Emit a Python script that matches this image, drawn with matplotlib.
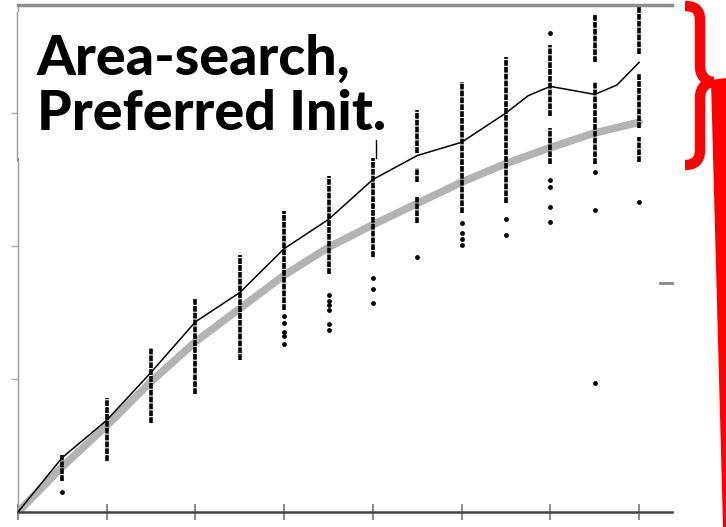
import numpy as np
import matplotlib.pyplot as plt
from matplotlib.patches import Rectangle, Polygon, PathPatch
from matplotlib.path import Path
from matplotlib.lines import Line2D

# mean curves (x = step, y = value)
mean_x = [0, 1, 2, 3, 4, 5, 6, 7, 8, 9, 10, 11, 11.5, 12, 12.5, 13, 13.5, 14]
mean_y = [0, 4.1, 6.9, 10.5, 14.3, 16.5, 19.8, 22.0, 25.0, 26.8, 27.8, 30.0, 31.3, 32.0, 31.7, 31.4, 32.1, 33.8]
gray_x = [0, 1, 2, 3, 4, 5, 6, 7, 8, 9, 10, 11, 12, 13, 14]
gray_y = [0, 3.4, 6.5, 9.8, 12.8, 15.3, 17.8, 19.9, 21.6, 23.2, 24.8, 26.2, 27.4, 28.5, 29.3]

# dense runs of samples per step
seg_x = [1, 2, 3, 4, 5, 6, 7, 8, 9, 9, 9, 10, 11, 12, 12, 13, 13, 14, 14, 14]
seg_lo = [2.3, 3.8, 6.7, 8.9, 11.4, 15.2, 17.9, 19.2, 27.0, 24.8, 21.7, 22.5, 23.2, 29.8, 26.2, 33.8, 26.2, 34.4, 28.9, 26.3]
seg_hi = [4.3, 8.6, 12.3, 16.1, 19.3, 22.6, 25.3, 26.6, 30.2, 25.9, 23.7, 32.3, 34.2, 35.1, 28.9, 37.4, 32.3, 38.0, 33.0, 28.2]

# isolated samples
dot_x = [1, 6, 6, 6, 6, 6, 7, 7, 7, 7, 7, 7, 8, 8, 8, 9, 10, 10, 10, 10,
         11, 11, 12, 12, 12, 12, 12, 13, 13, 13, 14]
dot_y = [1.5, 14.7, 14.2, 13.5, 13.2, 12.6, 16.3, 15.9, 15.6, 15.2, 14.1, 13.7, 17.6, 16.8, 15.7, 19.2, 21.7, 21.0, 20.5, 20.1,
         22.0, 20.8, 36.0, 25.0, 24.4, 22.9, 21.8, 25.6, 22.7, 9.7, 23.3]

W, H = 726, 527
def fx(x): return x / W
def fy(y): return 1 - y / H

fig = plt.figure(figsize=(7.26, 5.27), dpi=100)
ax = fig.add_axes([fx(18), fy(512), (672 - 18) / W, (512 - 5) / H])

ax.plot(gray_x, gray_y, color='#b3b3b3', lw=5.5, solid_capstyle='round', zorder=1)
ax.vlines(seg_x, seg_lo, seg_hi, color='black', lw=2.6, linestyles=[(0, (1.6, 0.3))], zorder=2)
ax.scatter(dot_x, dot_y, s=12, color='black', zorder=3, clip_on=False, linewidths=0)
ax.plot(mean_x, mean_y, color='black', lw=1.1, zorder=4)

ax.set_xlim(0, 654 / 44.36)
ax.set_ylim(0, 507 / 13.3)
ax.set_xticks(range(0, 15, 2))
ax.set_yticks([10, 20, 30])
ax.tick_params(axis='x', direction='inout', length=12, width=1.2, color='#777777', labelbottom=False)
ax.tick_params(axis='y', direction='out', length=5, width=1, color='#aaaaaa', labelleft=False)
ax.spines['right'].set_visible(False)
ax.spines['top'].set_color('#8c8c8c')
ax.spines['top'].set_linewidth(2.5)
ax.spines['bottom'].set_color('#444444')
ax.spines['bottom'].set_linewidth(1.8)
ax.spines['left'].set_color('#999999')
ax.spines['left'].set_linewidth(1)

# white title box over the plot
box = Rectangle((fx(17), fy(158)), (376 - 17) / W, (158 - 12) / H, transform=fig.transFigure,
                facecolor='white', edgecolor='none', zorder=5)
fig.add_artist(box)
fig.add_artist(Line2D([fx(17), fx(17)], [fy(12), fy(160)], color='#999999', lw=1, zorder=6))
fig.add_artist(Line2D([fx(376), fx(376)], [fy(140), fy(158)], color='black', lw=1, zorder=6))
fig.text(fx(37), fy(75), 'Area-search,', fontsize=40, fontweight='black', family='Lato',
         va='baseline', ha='left', zorder=7)
fig.text(fx(37), fy(130), 'Preferred Init.', fontsize=40, fontweight='black', family='Lato',
         va='baseline', ha='left', zorder=7)

# red brace and pointer
pts = [(685, 6), (695, 6), (700, 10), (700, 20), (700, 66), (700, 76), (706, 82), (714, 82),
       (706, 82), (700, 88), (700, 98), (700, 150), (700, 160), (695, 165), (685, 165)]
codes = [Path.MOVETO, Path.CURVE4, Path.CURVE4, Path.CURVE4, Path.LINETO, Path.CURVE4, Path.CURVE4, Path.CURVE4,
         Path.CURVE4, Path.CURVE4, Path.CURVE4, Path.LINETO, Path.CURVE4, Path.CURVE4, Path.CURVE4]
brace = PathPatch(Path([(fx(a), fy(b)) for a, b in pts], codes), transform=fig.transFigure,
                  facecolor='none', edgecolor='red', lw=7.5, capstyle='butt', zorder=8)
fig.add_artist(brace)
wedge = Polygon([(fx(711), fy(80)), (fx(726), fy(78)), (fx(726), fy(527)), (fx(723), fy(527))],
                closed=True, transform=fig.transFigure, facecolor='red', edgecolor='none', zorder=8)
fig.add_artist(wedge)
fig.add_artist(Line2D([fx(660), fx(672)], [fy(283), fy(283)], color='#888888', lw=2, zorder=6))

fig.savefig('out.png', dpi=100)
